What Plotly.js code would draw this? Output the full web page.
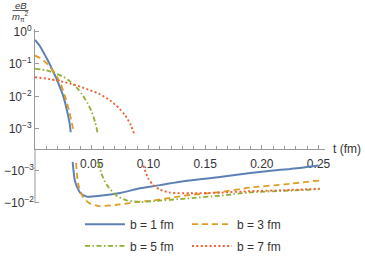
<!DOCTYPE html>
<html>
<head>
<meta charset="utf-8">
<script src="https://cdn.plot.ly/plotly-3.0.1.min.js"></script>
<style>html,body{margin:0;padding:0;background:#fff;}#chart{width:365px;height:273px;}</style>
</head>
<body>
<div id="chart"></div>
<script>
// ---- data (t in fm, eB/m_pi^2) ----
const seriesNames = ['b = 1 fm', 'b = 3 fm', 'b = 5 fm', 'b = 7 fm'];

// positive branches
const tPos1 = [0, 0.004, 0.0073, 0.0105, 0.0132, 0.016, 0.019, 0.022, 0.025, 0.0285, 0.0305, 0.0315];
const vPos1 = [0.55, 0.37, 0.233, 0.145, 0.095, 0.058, 0.035, 0.019, 0.01, 0.0033, 0.0015, 0.00078];
const tPos3 = [0, 0.004, 0.0073, 0.0115, 0.0161, 0.022, 0.0265, 0.0303, 0.0325, 0.0344];
const vPos3 = [0.18, 0.155, 0.13, 0.095, 0.06, 0.028, 0.01, 0.0033, 0.0015, 0.00076];
const tPos5 = [0, 0.0103, 0.0176, 0.025, 0.0309, 0.0365, 0.0415, 0.0465, 0.05, 0.053, 0.0552];
const vPos5 = [0.072, 0.063, 0.052, 0.04, 0.029, 0.019, 0.0115, 0.006, 0.0033, 0.0016, 0.00075];
const tPos7 = [0, 0.0132, 0.0309, 0.0397, 0.0485, 0.0575, 0.0661, 0.0735, 0.0795, 0.0845, 0.0875];
const vPos7 = [0.039, 0.034, 0.025, 0.020, 0.0155, 0.0115, 0.0075, 0.0045, 0.0026, 0.0013, 0.00068];

// negative branches
const tNeg1 = [0.0332, 0.0353, 0.0397, 0.0456, 0.0573, 0.075, 0.0926, 0.104, 0.134, 0.163, 0.19, 0.21, 0.225, 0.25];
const vNeg1 = [-5.4e-4, -2.2e-3, -4.9e-3, -6.5e-3, -6.1e-3, -5.0e-3, -3.6e-3, -3.1e-3, -2.1e-3, -1.6e-3, -1.2e-3, -1.0e-3, -9e-4, -7e-4];
const tNeg3 = [0.0362, 0.0382, 0.0426, 0.0485, 0.0573, 0.075, 0.0926, 0.104, 0.134, 0.163, 0.19, 0.22, 0.251];
const vNeg3 = [-5.8e-4, -2.8e-3, -6.9e-3, -0.0107, -0.0129, -0.0113, -9.3e-3, -8.6e-3, -5.9e-3, -4.7e-3, -3.4e-3, -2.7e-3, -2.05e-3];
const tNeg5 = [0.056, 0.0588, 0.0632, 0.072, 0.0809, 0.0926, 0.104, 0.134, 0.163, 0.19, 0.22, 0.251];
const vNeg5 = [-5.7e-4, -1.3e-3, -2.8e-3, -6.1e-3, -8.5e-3, -9.5e-3, -9.0e-3, -7.4e-3, -6.1e-3, -4.8e-3, -4.3e-3, -3.8e-3];
const tNeg7 = [0.0955, 0.0999, 0.104, 0.110, 0.119, 0.137, 0.163, 0.19, 0.22, 0.251];
const vNeg7 = [-7.1e-4, -1.78e-3, -2.8e-3, -3.9e-3, -4.9e-3, -5.1e-3, -4.9e-3, -4.4e-3, -4.1e-3, -3.7e-3];

const xTickVals = [0.05, 0.10, 0.15, 0.20, 0.25];
const xTickText = ['0.05', '0.10', '0.15', '0.20', '0.25'];
const yPosTickVals = [1, 0.1, 0.01, 0.001];
const yPosTickText = ['10<sup>0</sup>', '10<sup>−1</sup>', '10<sup>−2</sup>', '10<sup>−3</sup>'];
const yNegTickVals = [-0.001, -0.01];
const yNegTickText = ['−10<sup>−3</sup>', '−10<sup>−2</sup>'];

// ---- styles ----
const colors = ['#5E81B5', '#E19C24', '#8FB032', '#EB6235'];
const dashes = ['solid', '6px,4px', '5px,2.5px,1.5px,2.5px', '2px,2.4px'];
const widths = [2, 1.8, 1.8, 1.9];
const legendOf = ['legend', 'legend', 'legend2', 'legend2'];
const FONT = 'Liberation Sans, Arial, sans-serif';

const posT = [tPos1, tPos3, tPos5, tPos7], posV = [vPos1, vPos3, vPos5, vPos7];
const negT = [tNeg1, tNeg3, tNeg5, tNeg7], negV = [vNeg1, vNeg3, vNeg5, vNeg7];

const traces = [];
for (let i = 0; i < 4; i++) {
  traces.push({
    x: posT[i], y: posV[i], xaxis: 'x', yaxis: 'y', mode: 'lines', name: seriesNames[i],
    line: {color: colors[i], dash: dashes[i], width: widths[i], shape: 'spline', smoothing: 0.6},
    legend: legendOf[i], showlegend: true, hoverinfo: 'skip'
  });
}
for (let i = 0; i < 4; i++) {
  traces.push({
    // lower panel: log axis of |value|, reversed, labelled with negative ticks
    x: negT[i], y: negV[i].map(v => -v), xaxis: 'x', yaxis: 'y2', mode: 'lines', name: seriesNames[i],
    line: {color: colors[i], dash: dashes[i], width: widths[i], shape: 'spline', smoothing: 0.6},
    showlegend: false, hoverinfo: 'skip'
  });
}

const AX = '#9a9a9a';
const TF = {family: FONT, size: 12, color: '#333'};
const splitFrac = 0.3353;
const legendBase = {
  orientation: 'h', xanchor: 'left', yanchor: 'middle', x: 0.155,
  font: {family: FONT, size: 12, color: '#333'},
  entrywidth: 52, itemwidth: 40, borderwidth: 0, bgcolor: 'rgba(0,0,0,0)'
};

const layout = {
  width: 365, height: 273,
  margin: {l: 35, r: 40, t: 29, b: 54},
  paper_bgcolor: '#fff', plot_bgcolor: '#fff',
  font: {family: FONT, color: '#333'},
  showlegend: true,
  legend: Object.assign({}, legendBase, {y: (219 - 235) / 190}),
  legend2: Object.assign({}, legendBase, {y: (219 - 258) / 190}),
  xaxis: {
    range: [0, 0.2557], anchor: 'y', domain: [0, 1],
    showline: true, linecolor: AX, linewidth: 1,
    ticks: 'inside', ticklen: 4, tickcolor: AX, tickwidth: 1, ticklabelstandoff: 4,
    tickmode: 'array', tickvals: xTickVals, ticktext: xTickText,
    tickfont: TF, showgrid: false, zeroline: false,
    minor: {tickmode: 'linear', tick0: 0, dtick: 0.01, ticks: 'inside', ticklen: 2.5, tickcolor: AX, showgrid: false}
  },
  yaxis: {
    type: 'log', domain: [splitFrac, 1], range: [-3.614, 0.079], anchor: 'x',
    showline: true, linecolor: AX, linewidth: 1,
    ticks: 'inside', ticklen: 4, tickcolor: AX,
    tickmode: 'array', tickvals: yPosTickVals, ticktext: yPosTickText,
    tickfont: TF, showgrid: false, zeroline: false
  },
  yaxis2: {
    type: 'log', domain: [0, splitFrac], range: [-1.803, -3.676], anchor: 'x',
    showline: false,
    ticks: 'inside', ticklen: 4, tickcolor: AX,
    tickmode: 'array', tickvals: yNegTickVals.map(v => -v), ticktext: yNegTickText,
    tickfont: TF, showgrid: false, zeroline: false
  },
  shapes: [
    {type: 'line', xref: 'paper', yref: 'paper', x0: 0, x1: 0, y0: (219 - 213) / 190, y1: splitFrac,
     line: {color: AX, width: 1}},
    {type: 'line', xref: 'paper', yref: 'paper', x0: (12.5 - 35) / 290, x1: (28.5 - 35) / 290,
     y0: (219 - 9.5) / 190, y1: (219 - 9.5) / 190, line: {color: '#333', width: 0.8}}
  ],
  annotations: [
    {text: 't (fm)', xref: 'paper', yref: 'paper', x: (331 - 35) / 290, y: splitFrac,
     xanchor: 'left', yanchor: 'middle', showarrow: false, font: {family: FONT, size: 12, color: '#333'}},
    {text: '<i>eB</i>', xref: 'paper', yref: 'paper', x: (20.5 - 35) / 290, y: (219 - 4.5) / 190,
     xanchor: 'center', yanchor: 'middle', showarrow: false, font: {family: FONT, size: 9.5, color: '#333'}},
    {text: '<i>m</i><sub>π</sub><sup>2</sup>', xref: 'paper', yref: 'paper', x: (20.5 - 35) / 290, y: (219 - 16) / 190,
     xanchor: 'center', yanchor: 'middle', showarrow: false, font: {family: FONT, size: 9.5, color: '#333'}}
  ]
};

Plotly.newPlot('chart', traces, layout, {displayModeBar: false, staticPlot: true});
</script>
</body>
</html>
